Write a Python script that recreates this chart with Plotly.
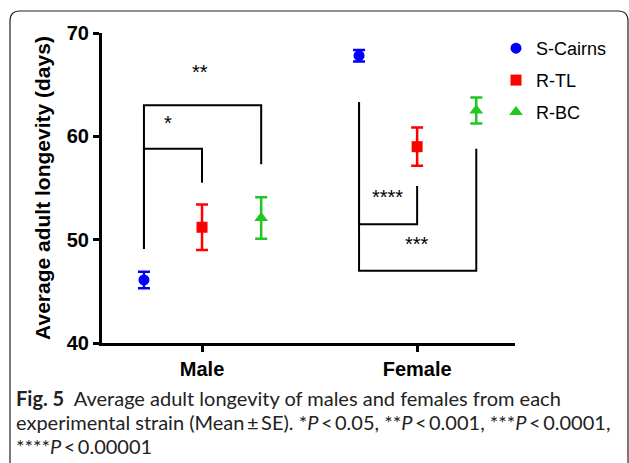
import plotly.graph_objects as go

# ---- data ----
categories = ["Male", "Female"]
series_names = ["S-Cairns", "R-TL", "R-BC"]
means = {
    "S-Cairns": [46.1, 67.8],
    "R-TL": [51.2, 59.0],
    "R-BC": [52.1, 62.5],
}
errors = {
    "S-Cairns": [0.8, 0.55],
    "R-TL": [2.2, 1.85],
    "R-BC": [2.0, 1.25],
}
colors = {"S-Cairns": "#0000FF", "R-TL": "#FF0000", "R-BC": "#1EC81E"}
symbols = {"S-Cairns": "circle", "R-TL": "square", "R-BC": "triangle-up"}
offsets = {"S-Cairns": -0.27, "R-TL": 0.0, "R-BC": 0.275}

y_ticks = [40, 50, 60, 70]

# significance brackets: (x_left, x_right, y_left_start, y_bar, y_right_end, label, label_x, label_y)
brackets = [
    (-0.27, 0.0, 49.1, 58.8, 55.5, "*", -0.16, 61.3),
    (-0.27, 0.275, 49.1, 63.0, 57.3, "**", -0.01, 66.2),
    (0.73, 1.0, 63.3, 51.5, 55.2, "****", 0.86, 54.1),
    (0.73, 1.275, 63.3, 47.0, 58.8, "***", 1.0, 49.6),
]

ts = "\u2009"
caption_lines = [
    "<b>Fig. 5</b>  Average adult longevity of males and females from each",
    f"experimental strain (Mean{ts}±{ts}SE). *<i>P</i>{ts}&lt;{ts}0.05, **<i>P</i>{ts}&lt;{ts}0.001, ***<i>P</i>{ts}&lt;{ts}0.0001,",
    f"****<i>P</i>{ts}&lt;{ts}0.00001",
]
caption_y_px = [398, 422, 446]

W, H = 629, 463
L, R, T, B = 102, 515, 33, 343

fig = go.Figure()
for i, s in enumerate(series_names):
    xs = [k + offsets[s] for k in range(len(categories))]
    fig.add_trace(go.Scatter(
        x=xs, y=means[s], mode="markers", name=s,
        legendgroup=s,
        marker=dict(color=colors[s], symbol=symbols[s], size=11 if s != "R-BC" else 12),
        error_y=dict(type="data", array=errors[s], color=colors[s], thickness=2.5, width=6),
    ))

shapes = []
annotations = []
for (xl, xr, y0, yb, y1, lab, lx, ly) in brackets:
    path = f"M {xl},{y0} L {xl},{yb} L {xr},{yb} L {xr},{y1}"
    shapes.append(dict(type="path", path=path, xref="x", yref="y",
                       line=dict(color="black", width=2)))
    annotations.append(dict(x=lx, y=ly, xref="x", yref="y", text=lab, showarrow=False,
                            font=dict(family="Arial, Liberation Sans", size=20, color="black")))

def px_x(p):
    return (p - L) / (R - L)

def px_y(p):
    return (B - p) / (B - T)

# outer rounded frame
r = 10
fx0, fx1, fy0, fyb = 10, 628, 11, 475
frame = (f"M {px_x(fx0)},{px_y(fyb)} L {px_x(fx0)},{px_y(fy0 + r)} "
         f"Q {px_x(fx0)},{px_y(fy0)} {px_x(fx0 + r)},{px_y(fy0)} "
         f"L {px_x(fx1 - r)},{px_y(fy0)} "
         f"Q {px_x(fx1)},{px_y(fy0)} {px_x(fx1)},{px_y(fy0 + r)} "
         f"L {px_x(fx1)},{px_y(fyb)}")
shapes.append(dict(type="path", path=frame, xref="paper", yref="paper",
                   line=dict(color="#222222", width=1.2)))

for line, ypx in zip(caption_lines, caption_y_px):
    annotations.append(dict(x=px_x(14), y=px_y(ypx), xref="paper", yref="paper",
                            xanchor="left", yanchor="middle", align="left", showarrow=False,
                            text=line,
                            font=dict(family="Lato, Open Sans", size=20, color="#222222")))

fig.update_layout(
    width=W, height=H,
    margin=dict(l=L, r=W - R, t=T, b=H - B, pad=0, autoexpand=False),
    plot_bgcolor="white", paper_bgcolor="white",
    font=dict(family="Arial, Liberation Sans", color="black"),
    shapes=shapes, annotations=annotations,
    showlegend=True,
    legend=dict(x=px_x(496), y=px_y(30), xanchor="left", yanchor="top",
                font=dict(family="Arial, Liberation Sans", size=18, color="black"),
                tracegroupgap=5.5, traceorder="grouped", bgcolor="rgba(0,0,0,0)"),
    xaxis=dict(range=[-0.465, 1.455], tickvals=[0, 1], ticktext=categories,
               automargin=False,
               showgrid=False, zeroline=False, showline=True, linecolor="black", linewidth=3,
               ticks="outside", ticklen=6, tickwidth=3, tickcolor="black",
               tickfont=dict(size=20, family="Arial, Liberation Sans", color="black", weight="bold")),
    yaxis=dict(range=[40, 70], tickvals=y_ticks, automargin=False,
               showgrid=False, zeroline=False, showline=True, linecolor="black", linewidth=3,
               ticks="outside", ticklen=6, tickwidth=3, tickcolor="black",
               tickfont=dict(size=20, color="black", weight="bold"),
               title=dict(text="Average adult longevity (days)", standoff=11,
                          font=dict(size=21, color="black", weight="bold"))),
)

fig.write_html("out.html", config={"displayModeBar": False},
               post_script="document.body.style.margin='0';")
